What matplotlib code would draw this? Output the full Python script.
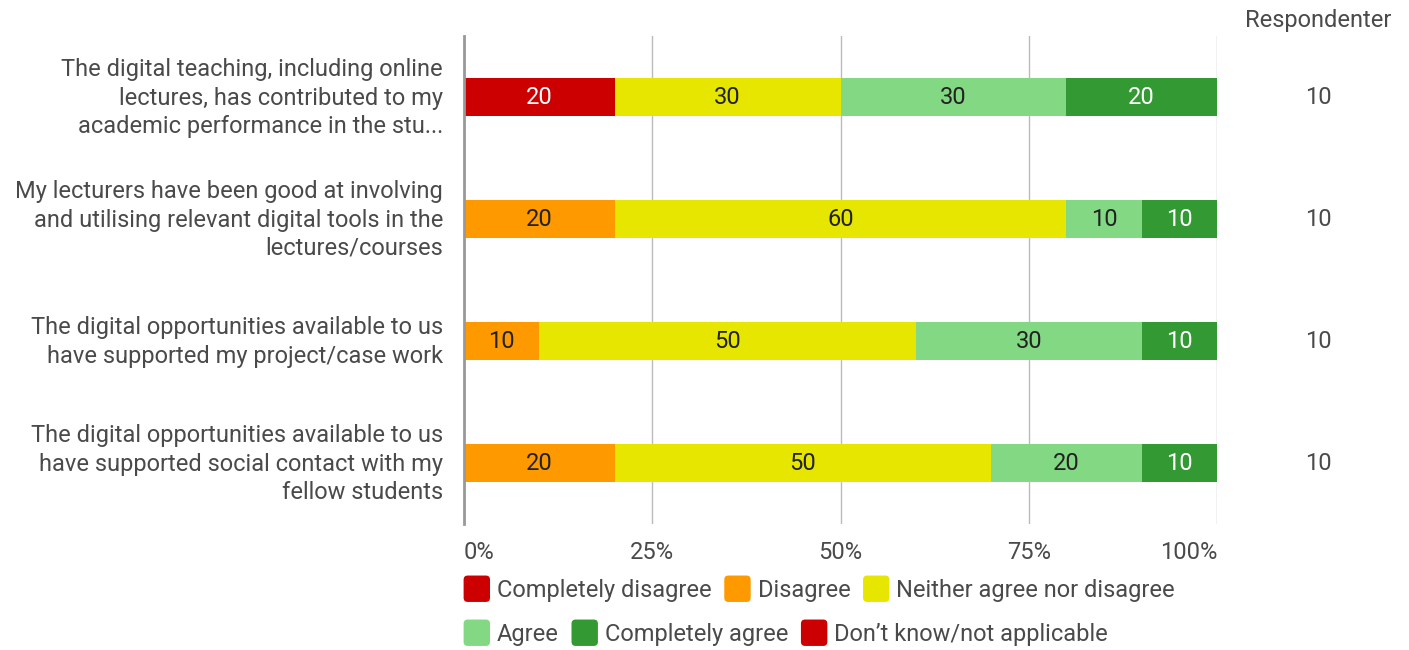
import matplotlib.pyplot as plt
import numpy as np
from matplotlib.legend_handler import HandlerPatch
from matplotlib.patches import FancyBboxPatch

plt.rcParams["font.family"] = ["Roboto", "DejaVu Sans"]

questions = [
    "The digital teaching, including online\nlectures, has contributed to my\nacademic performance in the stu...",
    "My lecturers have been good at involving\nand utilising relevant digital tools in the\nlectures/courses",
    "The digital opportunities available to us\nhave supported my project/case work",
    "The digital opportunities available to us\nhave supported social contact with my\nfellow students",
]
categories = [
    "Completely disagree",
    "Disagree",
    "Neither agree nor disagree",
    "Agree",
    "Completely agree",
    "Don\u2019t know/not applicable",
]
values = {
    "Completely disagree": [20, 0, 0, 0],
    "Disagree": [0, 20, 10, 20],
    "Neither agree nor disagree": [30, 60, 50, 50],
    "Agree": [30, 10, 30, 20],
    "Completely agree": [20, 10, 10, 10],
    "Don\u2019t know/not applicable": [0, 0, 0, 0],
}
respondents = [10, 10, 10, 10]
xticks = [0, 25, 50, 75, 100]
xtick_labels = ["0%", "25%", "50%", "75%", "100%"]

colors = ["#cc0000", "#ff9900", "#e6e600", "#83d983", "#339933", "#cc0000"]
text_colors = ["white", "#222222", "#222222", "#222222", "white", "white"]
FS = 17
GREY = "#4a4a4a"


def rounded_square(legend, orig_handle, xdescent, ydescent, width, height, fontsize):
    side = min(width, height) * 1.25
    return FancyBboxPatch((-xdescent + (width - side) / 2, -ydescent + (height - side) / 2),
                          side, side, boxstyle="round,pad=0,rounding_size=3")


fig = plt.figure(figsize=(14.09, 6.5), dpi=100)
ax = fig.add_axes([464 / 1409, 1 - 524 / 650, (1217 - 464) / 1409, (524 - 36) / 650])

y = np.arange(len(questions))
left = np.zeros(len(questions))
handles = []
for cat, col, tcol in zip(categories, colors, text_colors):
    vals = np.array(values[cat], dtype=float)
    bars = ax.barh(y, vals, left=left, height=0.31, color=col, zorder=3)
    handles.append(bars.patches[0])
    labels = [f"{v:g}" if v > 0 else "" for v in vals]
    ax.bar_label(bars, labels=labels, label_type="center", color=tcol, fontsize=FS)
    left += vals

ax.set_ylim(len(questions) - 0.5, -0.5)
ax.set_xlim(0, 100)
ax.set_yticks(y)
ax.set_yticklabels([])
# question labels drawn by hand so they sit centred on the bars
for yi, q in zip(y, questions):
    ax.annotate(q, xy=(0, yi), xycoords=("axes fraction", "data"),
                xytext=(-21, -1), textcoords="offset pixels",
                ha="right", va="center", multialignment="right",
                fontsize=FS, color=GREY, linespacing=1.3)
ax.set_xticks(xticks)
ax.set_xticklabels(xtick_labels, fontsize=FS, color=GREY)
# first label sits right of its gridline, last one left of it
xt = ax.get_xticklabels()
xt[0].set_horizontalalignment("left")
xt[-1].set_horizontalalignment("right")
ax.tick_params(axis="x", length=0, pad=12)
ax.tick_params(axis="y", length=0)
ax.grid(axis="x", color="#bbbbbb", linewidth=1, zorder=0)
for side in ["top", "right", "bottom"]:
    ax.spines[side].set_visible(False)
ax.spines["left"].set_color("#999999")
ax.spines["left"].set_linewidth(2)
ax.spines["left"].set_zorder(4)

# respondent counts to the right of the plot
for yi, n in zip(y, respondents):
    ax.text(1318, ax.transData.transform((0, yi))[1], str(n), transform=None,
            ha="center", va="center", fontsize=FS, color=GREY)
fig.text(1318 / 1409, 1 - 20 / 650, "Respondenter", ha="center", va="center",
         fontsize=FS, color=GREY)

leg_kw = dict(frameon=False, fontsize=FS, handlelength=1.0, handleheight=1.0,
              handletextpad=0.35, columnspacing=0.6, labelcolor=GREY,
              borderaxespad=0, borderpad=0,
              handler_map={type(handles[0]): HandlerPatch(patch_func=rounded_square)})
fig.legend(handles[:3], categories[:3], ncol=3,
           loc="center left", bbox_to_anchor=(465 / 1409, 1 - 590 / 650), **leg_kw)
fig.legend(handles[3:], categories[3:], ncol=3,
           loc="center left", bbox_to_anchor=(465 / 1409, 1 - 634 / 650), **leg_kw)

fig.savefig("out.png", dpi=100)
